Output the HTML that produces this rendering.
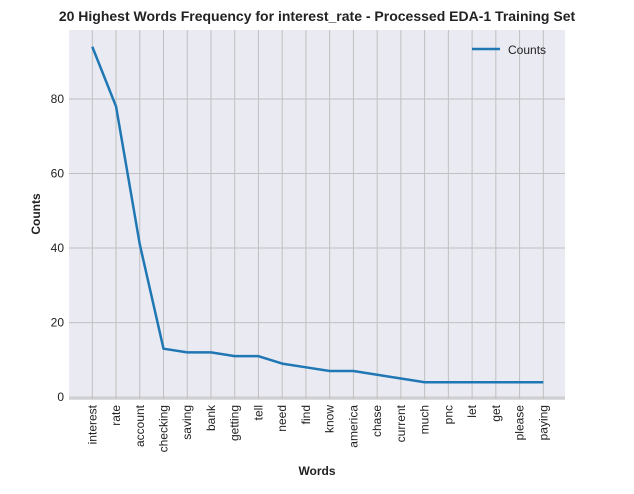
<!DOCTYPE html>
<html><head><meta charset="utf-8"><style>
body{margin:0;background:#fff;font-family:"Liberation Sans",Arial,sans-serif}
</style></head><body>
<svg id="chart" width="634" height="489" xmlns="http://www.w3.org/2000/svg">
<text x="317" y="21" text-anchor="middle" font-size="14" font-weight="bold" fill="#222">20 Highest Words Frequency for interest_rate - Processed EDA-1 Training Set</text>
<rect x="69" y="30" width="496" height="369" fill="#eaeaf2"/>
<g id="grid"></g>
<line x1="69" y1="399" x2="565" y2="399" stroke="#b8b8b8" stroke-width="1"/>
<g id="ticks"></g>
<polyline id="line" fill="none" stroke="#1f77b4" stroke-width="2.5" stroke-linejoin="round"/>
<text transform="translate(40,214) rotate(-90)" text-anchor="middle" font-size="12" font-weight="bold" fill="#222">Counts</text>
<text x="317" y="475" text-anchor="middle" font-size="12" font-weight="bold" fill="#222">Words</text>
<g>
<line x1="472" y1="49" x2="500" y2="49" stroke="#1f77b4" stroke-width="2.5"/>
<text x="508" y="54" font-size="12" fill="#222">Counts</text>
</g>
</svg>
<script>
const words=["interest","rate","account","checking","saving","bank","getting","tell","need","find","know","america","chase","current","much","pnc","let","get","please","paying"];
const counts=[94,78,41,13,12,12,11,11,9,8,7,7,6,5,4,4,4,4,4,4];
const yTicks=[0,20,40,60,80];
const NS="http://www.w3.org/2000/svg";
const x0=92.3,x1=543.3,yMin=-0.5,yMax=98.5,plotTop=30,plotBot=399;
function xs(i){return x0+(x1-x0)*i/(words.length-1);}
function ys(v){return plotBot-(v-yMin)/(yMax-yMin)*(plotBot-plotTop);}
const grid=document.getElementById('grid'),ticks=document.getElementById('ticks');
function mk(tag,attrs,parent){const e=document.createElementNS(NS,tag);for(const k in attrs)e.setAttribute(k,attrs[k]);parent.appendChild(e);return e;}
yTicks.forEach(v=>{
 const l=mk('line',{x1:69,x2:565,y1:ys(v),y2:ys(v),stroke:'#c0c0c0','stroke-width':1},grid);
 
 
 const t=mk('text',{x:64,y:ys(v)+4,'text-anchor':'end','font-size':12,fill:'#222'},ticks);
 t.textContent=v;
 
 
});
words.forEach((w,i)=>{
 const l=mk('line',{x1:xs(i),x2:xs(i),y1:plotTop,y2:plotBot,stroke:'#c0c0c0','stroke-width':1},grid);
 
 
 const t=mk('text',{transform:`translate(${xs(i)+4},405) rotate(-90)`,'text-anchor':'end','font-size':12,fill:'#222'},ticks);
 t.textContent=w;
 
 
});
document.getElementById('line').setAttribute('points',counts.map((c,i)=>xs(i)+','+ys(c)).join(' '));
</script>
</body></html>
